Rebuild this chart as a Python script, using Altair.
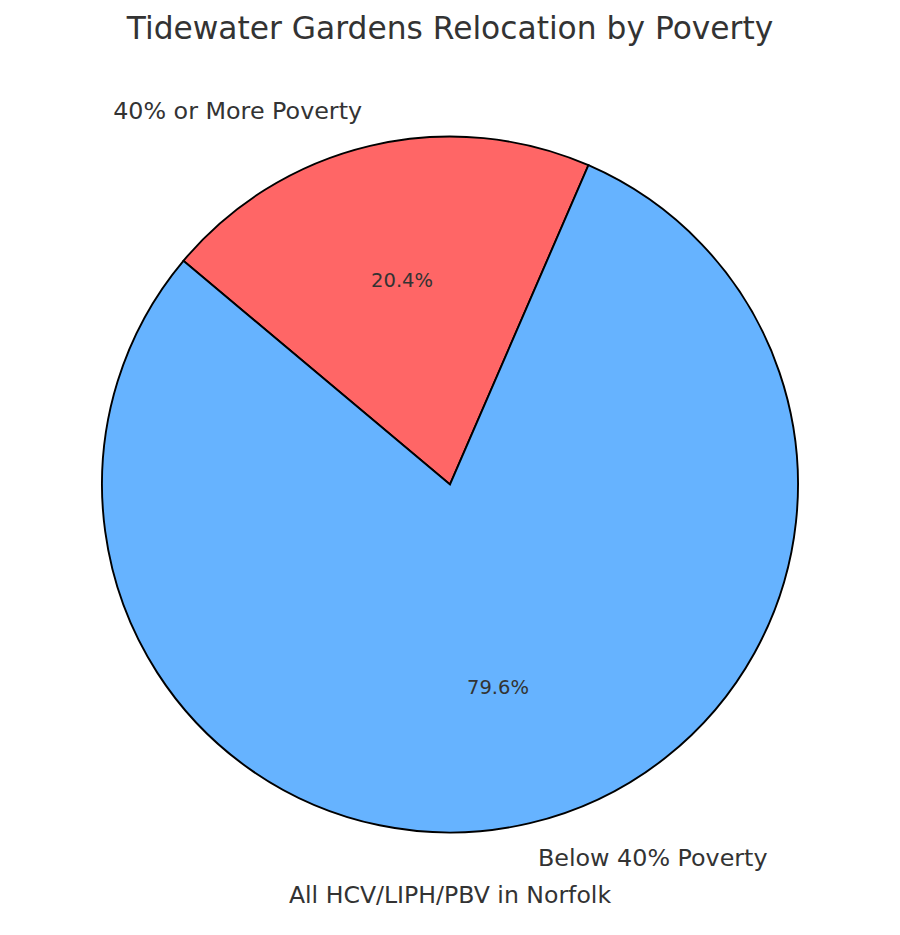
import math
import altair as alt
import pandas as pd

# ---- data ----
categories = ["40% or More Poverty", "Below 40% Poverty"]
shares = [20.4, 79.6]
pct_labels = ["20.4%", "79.6%"]
colors = ["#ff6666", "#66b3ff"]
title_text = "Tidewater Gardens Relocation by Poverty"
xlabel_text = "All HCV/LIPH/PBV in Norfolk"

df = pd.DataFrame({"category": categories, "share": shares, "pct": pct_labels})
xl_df = pd.DataFrame({"label": [xlabel_text]})

# ---- layout / style ----
W, H = 884, 865
PAD_TOP = 50
CX, CY = 442, 484.5 - 8 - PAD_TOP
R = 348
START = math.radians(-50)
FONT = "DejaVu Sans"
TXT = "#333333"

theta_scale = alt.Scale(
    domain=[0, sum(shares)], range=[START, START + 2 * math.pi], zero=True, nice=False
)

base = (
    alt.Chart(df)
    .transform_window(
        cum="sum(share)",
        sort=[alt.SortField("category", order="ascending")],
        frame=[None, 0],
    )
    .transform_calculate(start="datum.cum - datum.share", mid="datum.cum - datum.share / 2")
)

arcs = base.mark_arc(radius=R, stroke="black", strokeWidth=1.9).encode(
    theta=alt.Theta("start:Q", scale=theta_scale, stack=False),
    theta2="cum:Q",
    color=alt.Color("category:N", scale=alt.Scale(domain=categories, range=colors), legend=None),
    x=alt.value(CX),
    y=alt.value(CY),
)

pct = base.mark_text(
    radius=0.6 * R, fontSize=19.5, font=FONT, color=TXT, baseline="middle", align="center"
).encode(
    theta=alt.Theta("mid:Q", scale=theta_scale, stack=False),
    text="pct:N",
    x=alt.value(CX),
    y=alt.value(CY),
)

lab_blue = base.transform_filter(alt.datum.category == categories[1]).mark_text(
    radius=1.1 * R, fontSize=23.8, font=FONT, color=TXT, baseline="middle", align="left", dy=1.5
).encode(
    theta=alt.Theta("mid:Q", scale=theta_scale, stack=False),
    text="category:N",
    x=alt.value(CX),
    y=alt.value(CY),
)

lab_red = base.transform_filter(alt.datum.category == categories[0]).mark_text(
    radius=1.1 * R, fontSize=23.8, font=FONT, color=TXT, baseline="middle", align="right"
).encode(
    theta=alt.Theta("mid:Q", scale=theta_scale, stack=False),
    text="category:N",
    x=alt.value(CX),
    y=alt.value(CY),
)

xlabel = alt.Chart(xl_df).mark_text(
    fontSize=23.6, font=FONT, color=TXT, baseline="alphabetic", align="center"
).encode(text="label:N", x=alt.value(CX), y=alt.value(903.3 - 8 - PAD_TOP))

chart = (
    alt.layer(arcs, pct, lab_blue, lab_red, xlabel)
    .properties(
        width=W,
        height=H,
        title=alt.Title(
            title_text, fontSize=31.3, font=FONT, color=TXT, fontWeight="normal",
            anchor="middle", offset=13,
        ),
        padding={"left": 0, "right": 0, "top": PAD_TOP, "bottom": 0},
        autosize=alt.AutoSizeParams(type="none"),
    )
    .configure_view(stroke=None)
)

chart.save("out.html", embed_options={"renderer": "svg", "actions": False})
